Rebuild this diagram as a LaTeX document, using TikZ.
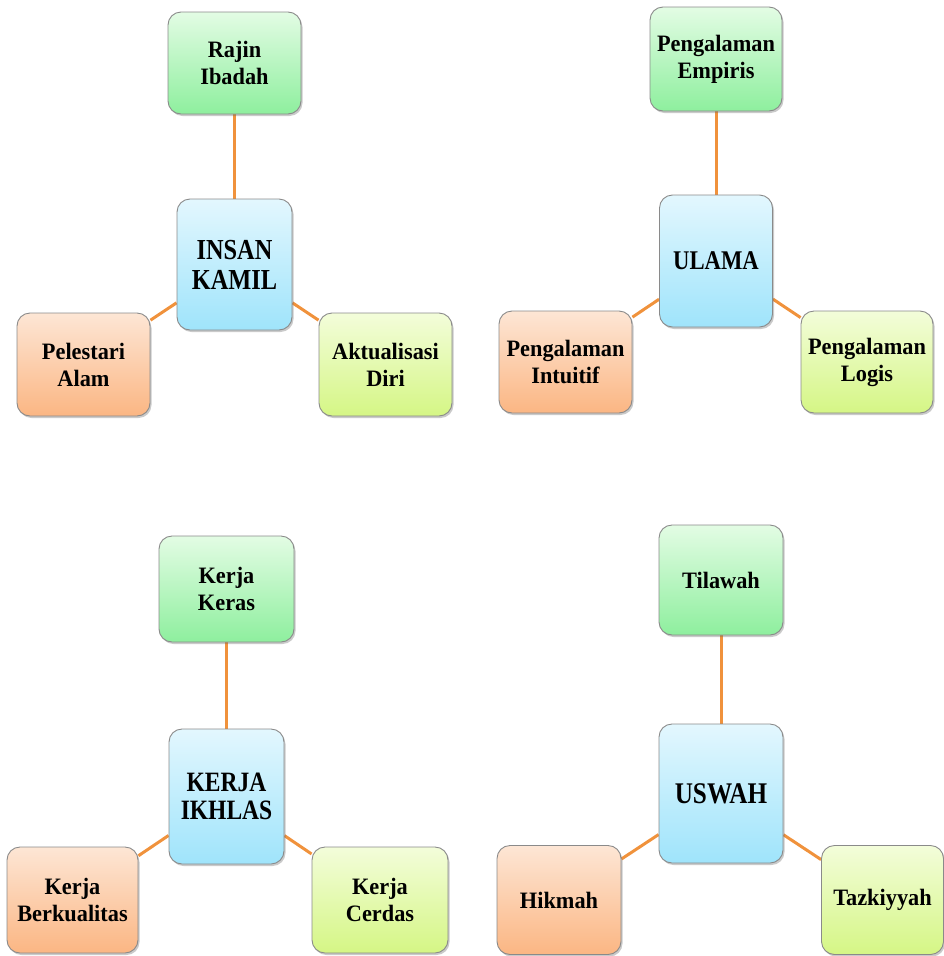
\documentclass[tikz,border=0pt]{standalone}
\usepackage{fontspec}
\setmainfont{Liberation Serif}[FakeStretch=0.95]
\newfontfamily\hubfont{Liberation Serif}[FakeStretch=0.84]
\usetikzlibrary{shadows,backgrounds}
\definecolor{gtop}{HTML}{E3FCE4}
\definecolor{gbot}{HTML}{8EEF9E}
\definecolor{btop}{HTML}{E3F7FE}
\definecolor{bbot}{HTML}{9FE4FB}
\definecolor{otop}{HTML}{FDE6D5}
\definecolor{obot}{HTML}{FBB683}
\definecolor{ytop}{HTML}{F3FDDA}
\definecolor{ybot}{HTML}{D5F685}
\definecolor{edge}{HTML}{8A8A8A}
\definecolor{link}{HTML}{F0923C}
\tikzset{
  box/.style={draw=edge, line width=0.9pt, rounded corners=13pt, inner sep=0pt,
    align=center, text=black,
    drop shadow={opacity=0.35, shadow xshift=1.5pt, shadow yshift=-2pt, fill=black!60}},
  outer/.style={box, font=\bfseries\fontsize{23.5}{27}\selectfont},
  center/.style={box, top color=btop, bottom color=bbot},
  greenbox/.style={outer, top color=gtop, bottom color=gbot},
  orangebox/.style={outer, top color=otop, bottom color=obot},
  yellowbox/.style={outer, top color=ytop, bottom color=ybot},
  linkline/.style={draw=link, line width=3pt},
}
\begin{document}
\begin{tikzpicture}[x=1pt,y=-1pt]
\useasboundingbox (0,0) rectangle (944,956);
% Group 1
\node[greenbox, minimum width=133pt, minimum height=102pt] (r1) at (234.5,63) {Rajin\\Ibadah};
\node[center, minimum width=115pt, minimum height=131pt, font=\hubfont\bfseries\fontsize{29}{30}\selectfont] (c1) at (234.5,264.5) {INSAN\\KAMIL};
\node[orangebox, minimum width=133pt, minimum height=103pt] (l1) at (83.5,364.5) {Pelestari\\Alam};
\node[yellowbox, minimum width=133pt, minimum height=103pt] (d1) at (385.5,364.5) {Aktualisasi\\Diri};
% Group 2
\node[greenbox, minimum width=132pt, minimum height=104pt] (r2) at (716,59) {Pengalaman\\Empiris};
\node[center, minimum width=113pt, minimum height=132pt, font=\hubfont\bfseries\fontsize{27}{29}\selectfont] (c2) at (716,261) {ULAMA};
\node[orangebox, minimum width=133pt, minimum height=102pt] (l2) at (565.5,362) {Pengalaman\\Intuitif};
\node[yellowbox, minimum width=132pt, minimum height=102pt] (d2) at (867,362) {Pengalaman\\Logis};
% Group 3
\node[greenbox, minimum width=135pt, minimum height=106pt] (r3) at (226.5,589) {Kerja\\Keras};
\node[center, minimum width=115pt, minimum height=135pt, font=\hubfont\bfseries\fontsize{28}{28}\selectfont] (c3) at (226.5,796.5) {KERJA\\IKHLAS};
\node[orangebox, minimum width=131pt, minimum height=106pt] (l3) at (72.5,900) {Kerja\\Berkualitas};
\node[yellowbox, minimum width=136pt, minimum height=106pt] (d3) at (380,900) {Kerja\\Cerdas};
% Group 4
\node[greenbox, minimum width=124pt, minimum height=110pt] (r4) at (721,580) {Tilawah};
\node[center, minimum width=124pt, minimum height=139pt, font=\hubfont\bfseries\fontsize{30}{31}\selectfont] (c4) at (721,793.5) {USWAH};
\node[orangebox, minimum width=124pt, minimum height=109pt] (l4) at (559,900) {Hikmah};
\node[yellowbox, minimum width=122pt, minimum height=109pt] (d4) at (882.5,900) {Tazkiyyah};
\begin{scope}[on background layer]
\foreach \i in {1,2,3,4}{
  \draw[linkline] (c\i) -- (r\i);
  \draw[linkline] (c\i) -- (l\i);
  \draw[linkline] (c\i) -- (d\i);
}
\end{scope}
\end{tikzpicture}
\end{document}
